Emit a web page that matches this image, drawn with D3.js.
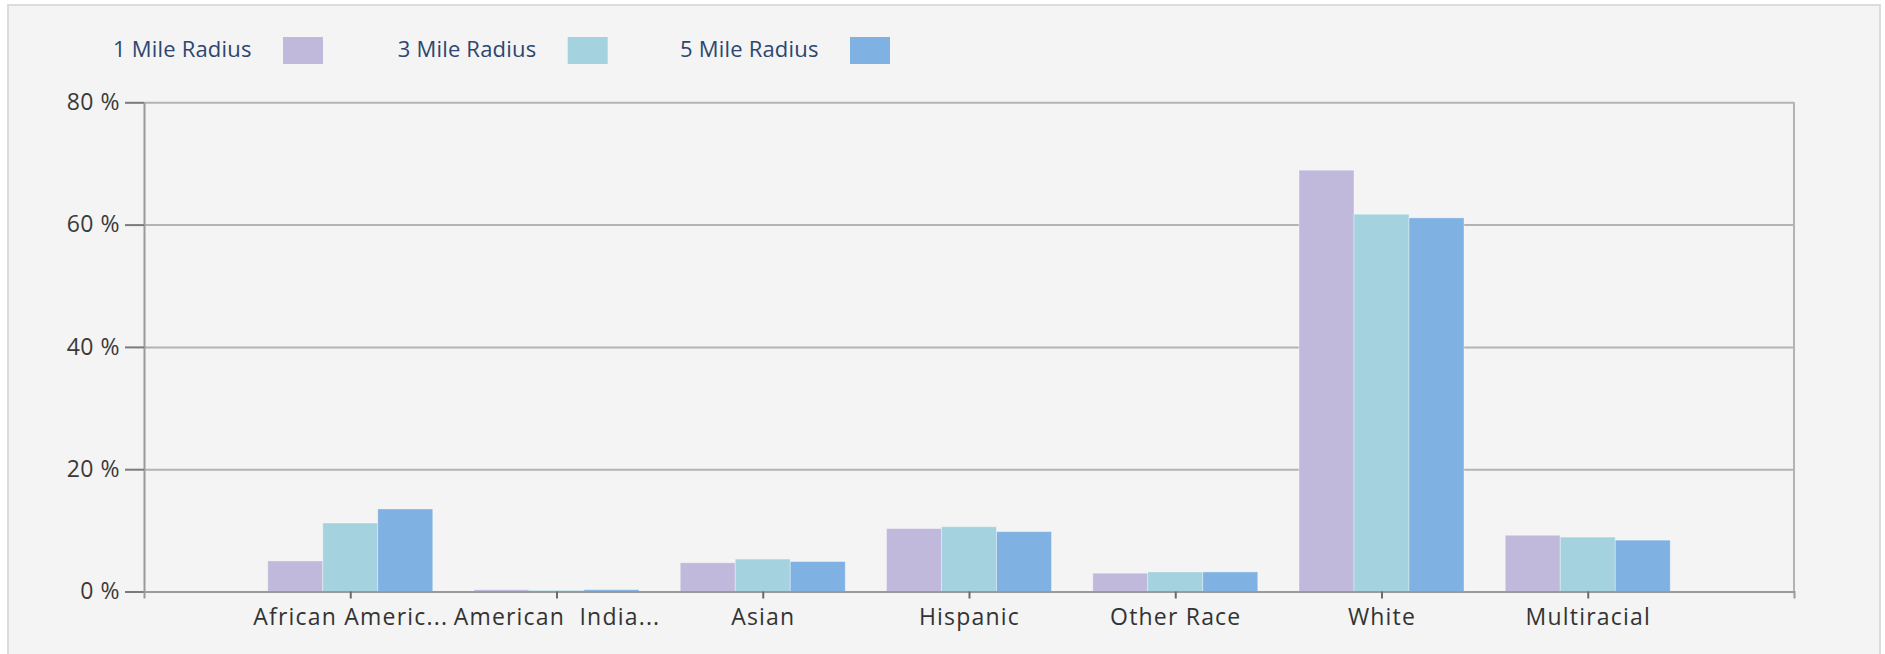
<!DOCTYPE html>
<html>
<head>
<meta charset="utf-8">
<script src="https://cdn.jsdelivr.net/npm/d3@7"></script>
<style>
  html, body { margin: 0; padding: 0; background: #ffffff; }
  svg { display: block; }
  text { font-family: "Open Sans", "Noto Sans", sans-serif; }
</style>
</head>
<body>
<svg id="chart" width="1885" height="654"></svg>
<script>
const categories = ["African Americ...", "American  India...", "Asian", "Hispanic", "Other Race", "White", "Multiracial"];
const seriesNames = ["1 Mile Radius", "3 Mile Radius", "5 Mile Radius"];
const mile1 = [5.0, 0.3, 4.7, 10.3, 3.0, 68.9, 9.2];
const mile3 = [11.2, 0.2, 5.3, 10.6, 3.2, 61.7, 8.9];
const mile5 = [13.5, 0.3, 4.9, 9.8, 3.2, 61.1, 8.4];
const yTicks = [0, 20, 40, 60, 80];
const colors = ["#c0b9dc", "#a4d3df", "#80b1e3"];

const seriesValues = [mile1, mile3, mile5];
const svg = d3.select("#chart");

// frame
svg.append("rect").attr("x", 8).attr("y", 5).attr("width", 1872).attr("height", 660)
  .attr("fill", "#f4f4f4").attr("stroke", "#dcdcdc").attr("stroke-width", 2);

const pLeft = 144, pRight = 1794, pTop = 102.3, pBottom = 591.5;

const x = d3.scalePoint().domain(categories).range([pLeft, pRight]).padding(1);
const groupW = x.step() * 0.8;
const xs = d3.scaleBand().domain(seriesNames).range([-groupW / 2, groupW / 2]).padding(0);
const y = d3.scaleLinear().domain([0, 80]).range([pBottom, pTop]);

// gridlines
svg.append("g").attr("transform", `translate(${pLeft},0)`)
  .call(d3.axisLeft(y).tickValues(yTicks).tickSize(-(pRight - pLeft)).tickFormat(""))
  .call(g => g.select(".domain").remove())
  .call(g => g.selectAll("line").attr("stroke", "#b3b3b3").attr("stroke-width", 2));

// right border line
svg.append("line").attr("x1", pRight).attr("x2", pRight).attr("y1", y(80)).attr("y2", y(0))
  .attr("stroke", "#b3b3b3").attr("stroke-width", 2);

// bars
const data = [];
categories.forEach((c, i) => seriesNames.forEach((s, j) => data.push({c, s, v: seriesValues[j][i], j})));
svg.append("g").selectAll("rect").data(data).join("rect")
  .attr("x", d => x(d.c) + xs(d.s))
  .attr("width", xs.bandwidth())
  .attr("y", d => y(d.v))
  .attr("height", d => y(0) - y(d.v))
  .attr("fill", d => colors[d.j])
  .attr("stroke", "rgba(255,255,255,0.35)")
  .attr("stroke-width", 1);

// y axis
svg.append("g").attr("transform", `translate(${pLeft},0)`)
  .call(d3.axisLeft(y).tickValues(yTicks).tickSize(19).tickSizeOuter(0).tickPadding(5).tickFormat(d => d + " %"))
  .call(g => g.select(".domain").attr("stroke", "#9a9a9a").attr("stroke-width", 2))
  .call(g => g.selectAll(".tick line").attr("stroke", "#7a7a7a").attr("stroke-width", 2))
  .call(g => g.selectAll("text").attr("fill", "#3a3a3a").attr("font-size", 23)
    .attr("font-family", "Open Sans").attr("letter-spacing", 0.5));

// x axis
svg.append("g").attr("transform", `translate(0,${pBottom})`)
  .call(d3.axisBottom(x).tickSize(7).tickSizeOuter(7).tickPadding(10))
  .call(g => g.select(".domain").attr("stroke", "#9a9a9a").attr("stroke-width", 2))
  .call(g => g.selectAll(".tick line").attr("stroke", "#6a6a6a").attr("stroke-width", 2))
  .call(g => g.selectAll("text").attr("fill", "#333333").attr("font-size", 23)
    .attr("font-family", "Open Sans").attr("letter-spacing", 1.2).style("white-space", "pre"));

// legend
const legX = [113, 397.7, 680];
const legend = svg.append("g").selectAll("g").data(seriesNames).join("g")
  .attr("transform", (d, i) => `translate(${legX[i]},0)`);
legend.append("text").attr("x", 0).attr("y", 56.5).text(d => d)
  .attr("fill", "#2d4670").attr("font-size", 22).attr("letter-spacing", 0.2);
legend.append("rect").attr("x", 170).attr("y", 37).attr("width", 40).attr("height", 27)
  .attr("fill", (d, i) => colors[i]);
</script>
</body>
</html>
